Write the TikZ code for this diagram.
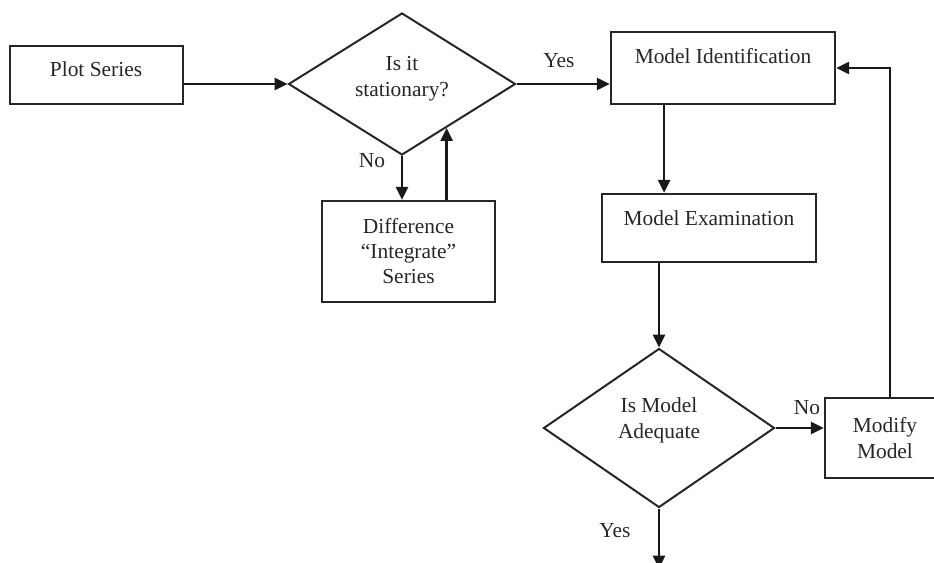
\documentclass[tikz,border=0pt]{standalone}
\usepackage{fontspec}
\setmainfont{Liberation Serif}
\usetikzlibrary{shapes.geometric,arrows.meta,calc}
\begin{document}
\begin{tikzpicture}[x=0.5pt,y=-0.5pt,
  box/.style={draw=black!85,line width=1.15pt,rectangle,inner sep=0pt},
  dec/.style={draw=black!85,line width=1pt,diamond,inner sep=0pt,aspect=1.6},
  txt/.style={inner sep=0pt,align=center,font=\fontsize{10.7}{13}\selectfont,text=black!85},
  arr/.style={draw=black!90,line width=1.3pt,-{Triangle[length=6.5pt,width=6pt]}}]
\useasboundingbox (0,0) rectangle (934,563);

% shapes
\node[box,minimum width=86.5pt,minimum height=29pt] (ps) at (96.5,75) {};
\node[txt] (pst) at (96,69) {Plot Series};

\node[dec,minimum width=113.5pt,minimum height=71pt] (d1) at (402,84) {};
\node[txt] (d1t) at (402,79) {Is it\\stationary?};

\node[box,minimum width=86.5pt,minimum height=50.5pt,txt,draw=black!85,line width=1.15pt,
      font=\fontsize{10.7}{12.5}\selectfont] (diff) at (408.5,251.5)
      {Difference\\“Integrate”\\Series};

\node[box,minimum width=112pt,minimum height=36pt] (mi) at (723,68) {};
\node[txt] (mit) at (723,56) {Model Identification};

\node[box,minimum width=107pt,minimum height=34pt] (me) at (709,228) {};
\node[txt] (met) at (709,218) {Model Examination};

\node[dec,minimum width=115.5pt,minimum height=79.5pt] (d2) at (659,428) {};
\node[txt] (d2t) at (659,420) {Is Model\\Adequate};

\node[box,minimum width=60pt,minimum height=40pt,txt,draw=black!85,line width=1.15pt] (mm)
      at (885,438) {Modify\\Model};

% helper points on edges
\coordinate (dback) at ($(d1.south)!0.39!(d1.east)$);
\coordinate (midown) at ($(mi.south west)!0.24!(mi.south east)$);
\coordinate (fb) at ($(mm.north)+(5,0)$);
\coordinate (exit) at ($(d2.south)+(0,60)$);

% connectors
\draw[arr] (ps.east |- d1.west) -- (d1.west);
\draw[arr] (d1.east) -- (d1.east -| mi.west);
\draw[arr] (d1.south) -- (d1.south |- diff.north);
\draw[arr] (diff.north -| dback) -- (dback);
\draw[arr] (midown) -- (midown |- me.north);
\draw[arr] (d2.north |- me.south) -- (d2.north);
\draw[arr] (d2.east) -- (d2.east -| mm.west);
\draw[arr] (fb) |- (mi.east);
\draw[arr] (d2.south) -- (exit);

% branch labels
\node[txt] (yes1) at (559,61) {Yes};
\node[txt] (no1) at (372,161) {No};
\node[txt] (no2) at (807,408) {No};
\node[txt] (yes2) at (615,531) {Yes};
\end{tikzpicture}
\end{document}
